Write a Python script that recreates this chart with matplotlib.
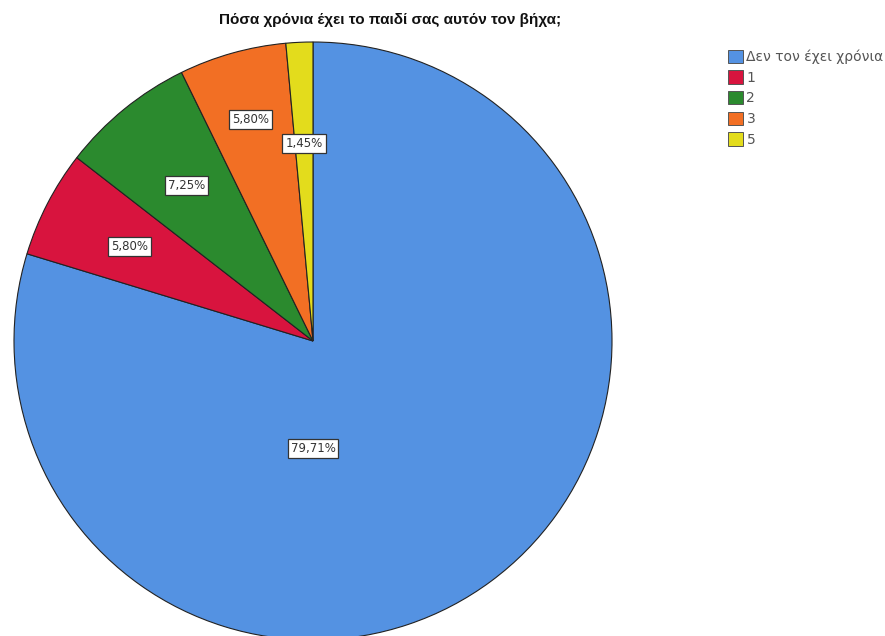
import numpy as np
import matplotlib
matplotlib.use("Agg")
import matplotlib.pyplot as plt
from matplotlib.patches import Patch

plt.rcParams['font.family'] = ['Liberation Sans', 'DejaVu Sans']

title = "Πόσα χρόνια έχει το παιδί σας αυτόν τον βήχα;"
categories = ["Δεν τον έχει χρόνια", "1", "2", "3", "5"]
counts = [55, 4, 5, 4, 1]
colors = ["#5492e2", "#d8143e", "#2b8a2e", "#f26f24", "#e3dc1c"]

W, H = 885, 636
fig = plt.figure(figsize=(W / 100, H / 100), dpi=100)
ax = fig.add_axes([0, 0, 1, 1])

cx, cy, r = 313, H - 341, 299
wedges, _ = ax.pie(counts, colors=colors, startangle=90, counterclock=False,
                   center=(cx, cy), radius=r, frame=True,
                   wedgeprops=dict(edgecolor="#222222", linewidth=0.8))
ax.set_xlim(0, W)
ax.set_ylim(0, H)
ax.set_aspect('equal')
ax.axis('off')

total = sum(counts)
pcts = [100 * c / total for c in counts]
label_dist = [0.36, 0.69, 0.67, 0.77, 0.66]
for i, (w, p, d) in enumerate(zip(wedges, pcts, label_dist)):
    ang = np.deg2rad((w.theta1 + w.theta2) / 2)
    if i == 0:
        ang = np.deg2rad(-90)
    x = cx + d * r * np.cos(ang)
    y = cy + d * r * np.sin(ang)
    ax.text(x, y, f"{p:.2f}%".replace('.', ','), ha='center', va='center',
            fontsize=8.5, color='#333333', family=['DejaVu Sans'],
            bbox=dict(boxstyle='square,pad=0.25', facecolor='white',
                      edgecolor='#333333', linewidth=0.9))

fig.text(390 / W, 1 - 20 / H, title, ha='center', va='center',
         fontsize=11, fontweight='bold', color='#111111')

handles = [Patch(facecolor=c, edgecolor='#555555', linewidth=0.7) for c in colors]
fig.legend(handles, categories, loc='upper left',
           bbox_to_anchor=(718 / W, 1 - 40 / H), frameon=False,
           prop=dict(family=['DejaVu Sans'], size=10),
           handlelength=1.1, handleheight=1.1,
           handletextpad=0.25, labelspacing=0.45, borderpad=0.2,
           labelcolor='#555555')

fig.savefig("out.png", dpi=100)
